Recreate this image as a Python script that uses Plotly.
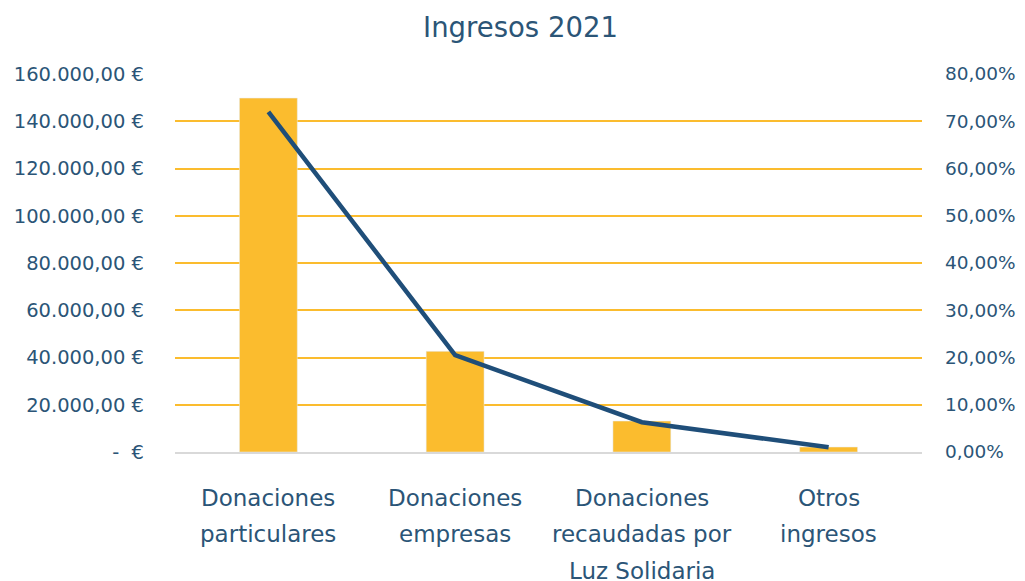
import plotly.graph_objects as go

categories = ["Donaciones particulares", "Donaciones empresas",
              "Donaciones recaudadas por Luz Solidaria", "Otros ingresos"]
cat_lines = [["Donaciones", "particulares"], ["Donaciones", "empresas"],
             ["Donaciones", "recaudadas por", "Luz Solidaria"], ["Otros", "ingresos"]]
amounts = [149800, 42600, 13100, 2100]
percentages = [72.0, 20.5, 6.3, 1.0]

left_vals = [0, 20000, 40000, 60000, 80000, 100000, 120000, 140000, 160000]
left_text = ["-  €", "20.000,00 €", "40.000,00 €", "60.000,00 €", "80.000,00 €",
             "100.000,00 €", "120.000,00 €", "140.000,00 €", "160.000,00 €"]
right_vals = [0, 10, 20, 30, 40, 50, 60, 70, 80]
right_text = ["0,00%", "10,00%", "20,00%", "30,00%", "40,00%",
              "50,00%", "60,00%", "70,00%", "80,00%"]

TXT = "#2B5577"
FONT = "DejaVu Sans"

fig = go.Figure()
fig.add_trace(go.Bar(x=categories, y=amounts, marker_color="#FBBC2E",
                     width=0.31, yaxis="y"))
fig.add_trace(go.Scatter(x=categories, y=percentages, mode="lines",
                         line=dict(color="#1F4E79", width=4.5), yaxis="y2"))

for cat, lines in zip(categories, cat_lines):
    for i, ln in enumerate(lines):
        fig.add_annotation(x=cat, xref="x", yref="paper", y=-0.1217 - i * 0.0965,
                           text=ln, showarrow=False, yanchor="middle",
                           font=dict(family=FONT, size=23, color=TXT))

fig.update_layout(
    width=1025, height=581,
    margin=dict(l=167, r=111, t=66, b=137, autoexpand=False),
    paper_bgcolor="white", plot_bgcolor="white",
    showlegend=False,
    title=dict(text="Ingresos 2021", x=0.5, xanchor="center", y=0.967, yanchor="middle",
               font=dict(family=FONT, size=27.5, color=TXT)),
    font=dict(family=FONT, color=TXT),
    xaxis=dict(showticklabels=False, showline=True, linecolor="#D9D9D9", linewidth=2,
               ticks="", showgrid=False, automargin=False),
    yaxis=dict(range=[0, 160000], tickvals=left_vals, ticktext=left_text,
               showgrid=True, gridcolor="#FBBC2E", gridwidth=2, zeroline=False,
               tickfont=dict(size=19.5, color=TXT), ticks="", ticklabelstandoff=30,
               automargin=False),
    yaxis2=dict(range=[0, 80], tickvals=right_vals, ticktext=right_text,
                overlaying="y", side="right", showgrid=False, zeroline=False,
                tickfont=dict(size=18.5, color=TXT), ticks="", ticklabelstandoff=22,
                automargin=False),
)

fig.write_html("out.html")
